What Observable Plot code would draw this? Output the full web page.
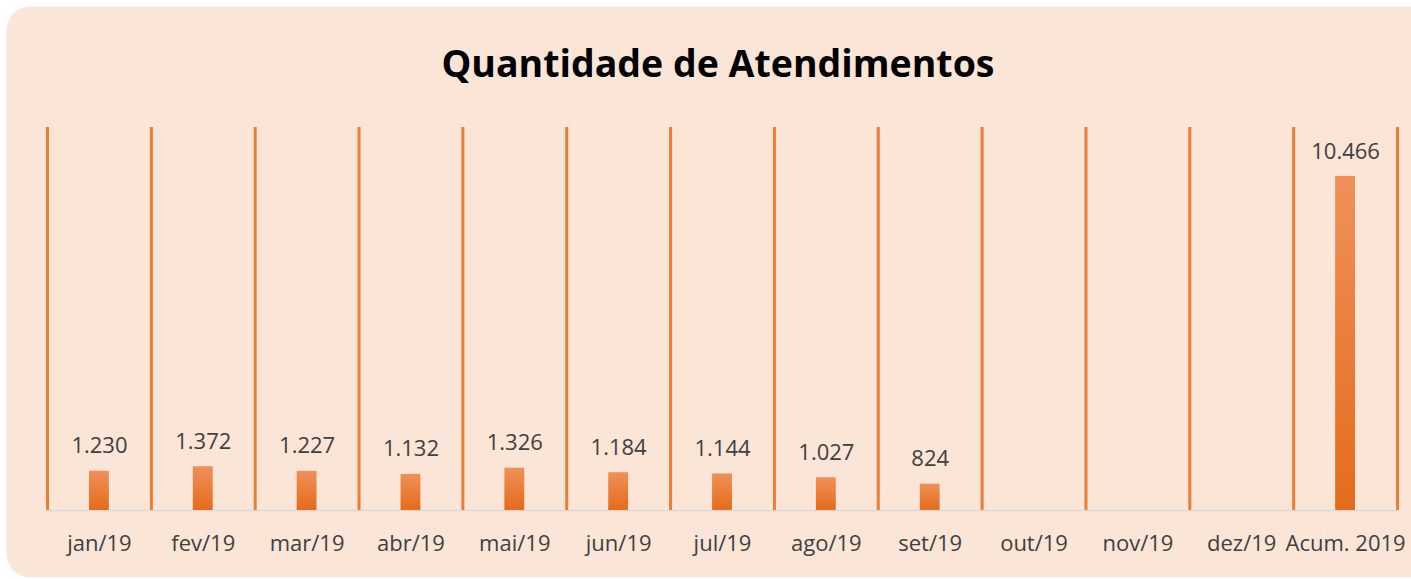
<!DOCTYPE html>
<html>
<head>
<meta charset="utf-8">
<script src="https://cdn.jsdelivr.net/npm/d3@7"></script>
<script src="https://cdn.jsdelivr.net/npm/@observablehq/plot@0.6"></script>
<style>
  html, body { margin: 0; padding: 0; background: #ffffff; width: 1411px; height: 579px; overflow: hidden; }
  #panel { position: absolute; left: 7px; top: 7px; width: 1430px; height: 570px; border-radius: 24px; background: #fbe5d6; box-shadow: 0 0 2px rgba(0,0,0,0.15); }
  #title { position: absolute; left: 0; width: 1436px; top: 44px; text-align: center; font-family: "Open Sans", sans-serif; font-weight: 700; font-size: 37.5px; line-height: 37.5px; color: #000; }
  #chart { position: absolute; left: 7px; top: 100px; }
</style>
</head>
<body>
<div id="panel"></div>
<div id="title">Quantidade de Atendimentos</div>
<div id="chart"></div>
<script>
const categories = ["jan/19", "fev/19", "mar/19", "abr/19", "mai/19", "jun/19", "jul/19", "ago/19", "set/19", "out/19", "nov/19", "dez/19", "Acum. 2019"];
const values = [1230, 1372, 1227, 1132, 1326, 1184, 1144, 1027, 824, null, null, null, 10466];
const yMax = 12000;

const data = categories.map((c, i) => ({category: c, value: values[i]}));
const fmt = d3.formatLocale({decimal: ",", thousands: ".", grouping: [3], currency: ["R$", ""]}).format(",d");

const W = 1404, H = 470, mL = 40, mR = 14, mT = 27, mB = 60;
const bw = (W - mL - mR) / categories.length;
const font = "'Open Sans', sans-serif";

const defs = () => {
  const svg = d3.create("svg:defs");
  const g = svg.append("linearGradient").attr("id", "barGrad").attr("x1", 0).attr("y1", 0).attr("x2", 0).attr("y2", 1);
  g.append("stop").attr("offset", "0%").attr("stop-color", "#f0905a");
  g.append("stop").attr("offset", "100%").attr("stop-color", "#e46b1c");
  return svg.node();
};

const chart = Plot.plot({
  width: W,
  height: H,
  marginLeft: mL,
  marginRight: mR,
  marginTop: mT,
  marginBottom: mB,
  style: {background: "transparent", fontFamily: font},
  x: {type: "band", domain: categories, padding: 0, round: false, label: null},
  y: {domain: [0, yMax], axis: null},
  marks: [
    defs,
    Plot.ruleY([0], {stroke: "#d9d9d9", strokeWidth: 1.5}),
    Plot.ruleX(categories, {x: d => d, y1: 0, y2: yMax, dx: -bw / 2, stroke: "#ed7d31", strokeWidth: 3}),
    Plot.ruleX(categories.slice(-1), {x: d => d, y1: 0, y2: yMax, dx: bw / 2, stroke: "#ed7d31", strokeWidth: 3}),
    Plot.barY(data.filter(d => d.value != null), {x: "category", y: "value", fill: "url(#barGrad)", insetLeft: 42, insetRight: 42}),
    Plot.text(data.filter(d => d.value != null), {x: "category", y: "value", text: d => fmt(d.value), dy: -25, fontSize: 22, fill: "#404040"}),
    Plot.axisX({tickSize: 0, tickPadding: 25, fontSize: 22, color: "#404040", label: null, lineAnchor: "top"})
  ]
});
document.getElementById("chart").appendChild(chart);
</script>
</body>
</html>
